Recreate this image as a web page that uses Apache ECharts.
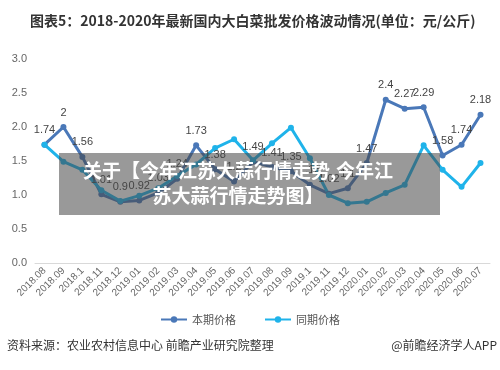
<!DOCTYPE html>
<html>
<head>
    <meta charset="utf-8">
    <title>ECharts</title>
    <script src="https://cdn.jsdelivr.net/npm/echarts@6/dist/echarts.min.js"></script>
</head>
<body style="margin:0;background:#fff;">
    <div id="main" style="width: 500px;height:370px;"></div>
    <script type="text/javascript">
        var months = ['2018.08', '2018.09', '2018.1', '2018.11', '2018.12', '2019.01', '2019.02', '2019.03',
            '2019.04', '2019.05', '2019.06', '2019.07', '2019.08', '2019.09', '2019.1', '2019.11',
            '2019.12', '2020.01', '2020.02', '2020.03', '2020.04', '2020.05', '2020.06', '2020.07'];
        var currentPrice = [1.74, 2, 1.56, 1.01, 0.9, 0.92, 1.03, 1.24, 1.73, 1.38, 1.2, 1.49,
            1.41, 1.35, 1.15, 1.02, 1.1, 1.47, 2.4, 2.27, 2.29, 1.58, 1.74, 2.18];
        var lastYearPrice = [1.74, 1.49, 1.37, 1.07, 0.91, 0.99, 1.1, 1.28, 1.45, 1.69, 1.82, 1.51,
            1.76, 1.99, 1.54, 1.0, 0.88, 0.9, 1.03, 1.15, 1.73, 1.37, 1.12, 1.47];
        var seriesNames = ['本期价格', '同期价格'];

        var myChart = echarts.init(document.getElementById('main'));

        var option = {
            backgroundColor: '#fff',
            animation: false,
            title: {
                text: '图表5：2018-2020年最新国内大白菜批发价格波动情况(单位：元/公斤)',
                left: 25,
                top: 9,
                textStyle: { fontSize: 14, fontWeight: 'bold', color: '#333', fontFamily: 'Noto Sans CJK SC' }
            },
            legend: {
                bottom: 40,
                left: 'center',
                itemWidth: 26,
                itemHeight: 8,
                itemGap: 28,
                textStyle: { fontSize: 11, color: '#555', fontFamily: 'Noto Sans CJK SC' },
                data: seriesNames
            },
            grid: { left: 35, right: 10, top: 59, bottom: 107 },
            xAxis: {
                type: 'category',
                data: months,
                axisLine: { lineStyle: { color: '#d9d9d9' } },
                axisTick: { show: false },
                axisLabel: { rotate: 45, interval: 0, fontSize: 10, color: '#666', margin: 6 }
            },
            yAxis: {
                type: 'value',
                min: 0,
                max: 3,
                interval: 0.5,
                splitLine: { show: false },
                axisLabel: {
                    fontSize: 11, color: '#666',
                    formatter: function (v) { return v.toFixed(1); }
                }
            },
            series: [{
                name: seriesNames[0],
                type: 'line',
                data: currentPrice,
                z: 3,
                symbol: 'circle',
                symbolSize: 6,
                color: '#4a78b8',
                lineStyle: { width: 3 },
                label: { show: true, position: 'top', fontSize: 11, color: '#444', distance: 6 }
            }, {
                name: seriesNames[1],
                type: 'line',
                data: lastYearPrice,
                symbol: 'circle',
                symbolSize: 6,
                color: '#1fb3ea',
                lineStyle: { width: 3 }
            }],
            graphic: [{
                type: 'rect',
                shape: { x: 59, y: 153, width: 381, height: 62 },
                style: { fill: 'rgba(70,70,70,0.55)' },
                z: 100
            }, {
                type: 'text',
                x: 238, y: 171,
                style: {
                    text: '关于【今年江苏大蒜行情走势,今年江',
                    fill: '#fff', font: 'bold 19px "Noto Sans CJK SC"',
                    align: 'center', verticalAlign: 'middle'
                },
                z: 101
            }, {
                type: 'text',
                x: 238, y: 196,
                style: {
                    text: '苏大蒜行情走势图】',
                    fill: '#fff', font: 'bold 19px "Noto Sans CJK SC"',
                    align: 'center', verticalAlign: 'middle'
                },
                z: 101
            }, {
                type: 'text',
                left: 7, top: 339,
                style: {
                    text: '资料来源：农业农村信息中心 前瞻产业研究院整理',
                    fill: '#333', font: '12px "Noto Sans CJK SC"'
                }
            }, {
                type: 'text',
                right: 3, top: 339,
                style: {
                    text: '@前瞻经济学人APP',
                    fill: '#333', font: '12px "Noto Sans CJK SC"'
                }
            }]
        };

        myChart.setOption(option);
    </script>
</body>
</html>
